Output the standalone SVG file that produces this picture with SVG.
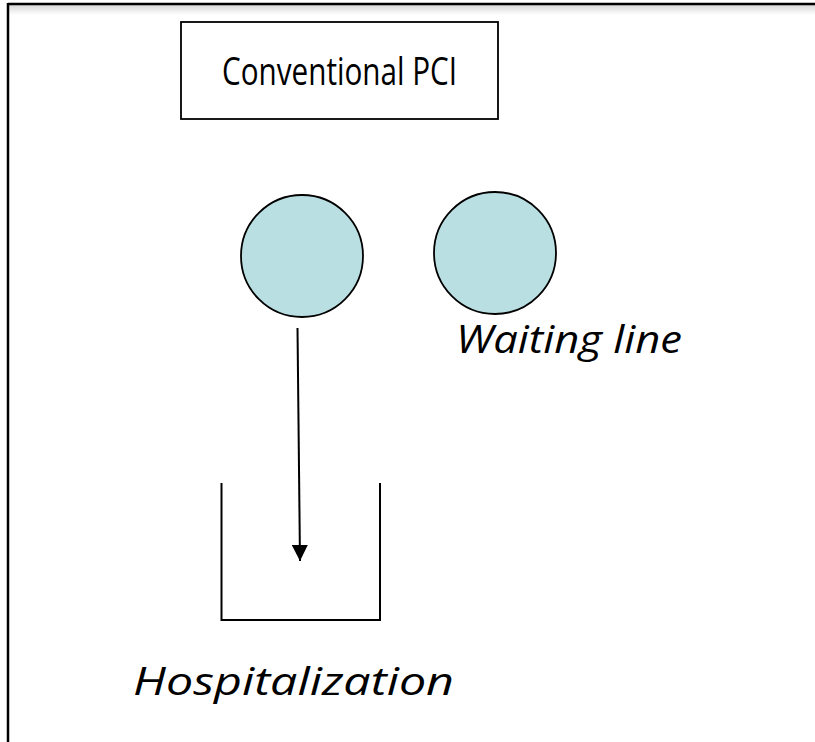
<svg xmlns="http://www.w3.org/2000/svg" width="815" height="742" viewBox="0 0 815 742">
  <defs>
    <linearGradient id="shadow" x1="0" y1="0" x2="0" y2="1">
      <stop offset="0" stop-color="#d8d8d8"/>
      <stop offset="1" stop-color="#ffffff"/>
    </linearGradient>
    <marker id="arrow" markerWidth="16" markerHeight="16" refX="16" refY="8" orient="auto" markerUnits="userSpaceOnUse">
      <path d="M0,0 L16,8 L0,16 Z" fill="#000"/>
    </marker>
    <style>
      .frame { stroke: #000; stroke-width: 2.5; fill: none; }
      .line { stroke: #000; stroke-width: 2; fill: none; }
      .node { fill: #b9dfe2; stroke: #000; stroke-width: 1.8; }
      .title { font-family: "Open Sans", "Liberation Sans", Arial, sans-serif; font-size: 39px; fill: #000; }
      .label { font-family: "Open Sans", "Liberation Sans", Arial, sans-serif; font-size: 39px; font-style: italic; fill: #000; }
    </style>
  </defs>
  <rect x="0" y="0" width="815" height="742" fill="#fff"/>
  <rect x="8" y="5" width="807" height="10" fill="url(#shadow)"/>
  <g id="frame">
    <line class="frame" x1="8" y1="4" x2="815" y2="4"/>
    <line class="frame" x1="8" y1="3" x2="8" y2="742"/>
  </g>
  <g id="title">
    <rect x="181" y="22" width="317" height="97" fill="#fff" stroke="#000" stroke-width="1.8"/>
    <text class="title" x="222" y="85" textLength="235" lengthAdjust="spacingAndGlyphs">Conventional PCI</text>
  </g>
  <g id="circle-left">
    <circle class="node" cx="302" cy="256" r="61"/>
  </g>
  <g id="circle-right">
    <circle class="node" cx="495" cy="253" r="61"/>
  </g>
  <g id="waiting-label">
    <text class="label" x="456" y="353" textLength="226" lengthAdjust="spacingAndGlyphs">Waiting line</text>
  </g>
  <g id="hospitalization">
    <path class="line" d="M221.5,483 L221.5,620 L380,620 L380,483"/>
    <text class="label" x="133" y="695" textLength="321" lengthAdjust="spacingAndGlyphs">Hospitalization</text>
  </g>
  <g id="connectors">
    <line class="line" x1="297.5" y1="328" x2="300" y2="561" marker-end="url(#arrow)"/>
  </g>
</svg>
